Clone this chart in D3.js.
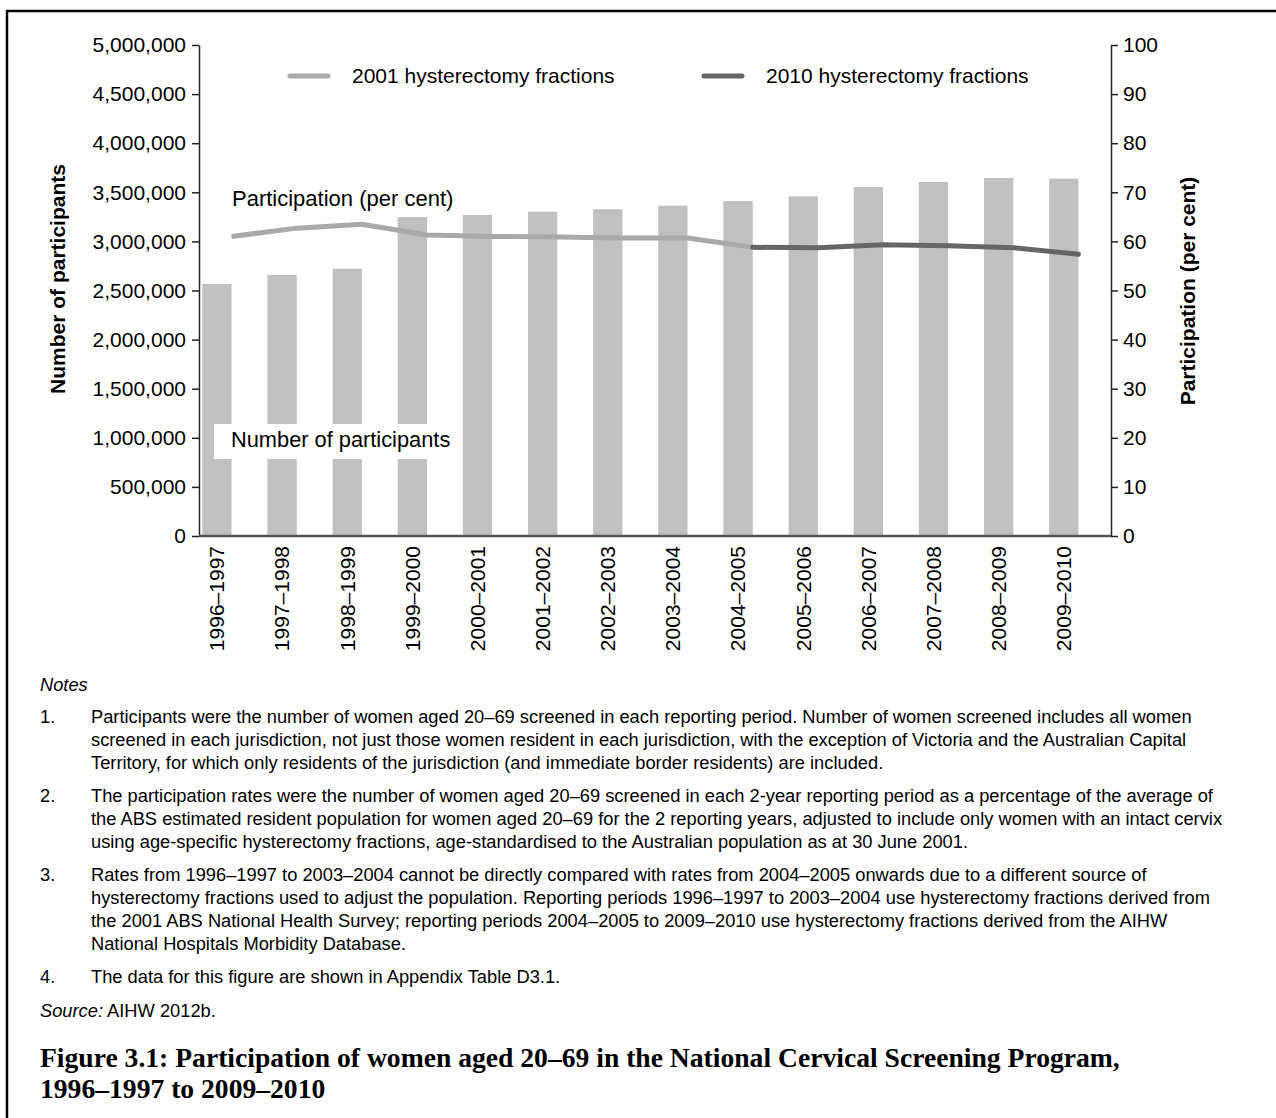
<!DOCTYPE html>
<html><head><meta charset="utf-8">
<script src="https://cdn.jsdelivr.net/npm/d3@7/dist/d3.min.js"></script>
<style>
body{margin:0;background:#fff}
svg{display:block}
text{font-family:"Liberation Sans",Arial,sans-serif;fill:#000}
text.serif{font-family:"Liberation Serif","Times New Roman",serif}
</style>
</head><body>
<svg id="c" width="1276" height="1118"></svg>
<script>
// ---- data ----
const categories = ["1996–1997","1997–1998","1998–1999","1999–2000","2000–2001","2001–2002","2002–2003","2003–2004","2004–2005","2005–2006","2006–2007","2007–2008","2008–2009","2009–2010"];
const participants = [2566000,2658000,2722000,3248000,3269000,3303000,3327000,3364000,3411000,3459000,3554000,3605000,3646000,3639000];
const periods2001 = categories.slice(0,9);
const rate2001 = [61.0,62.7,63.5,61.3,61.0,60.9,60.7,60.7,58.8];
const periods2010 = categories.slice(8);
const rate2010 = [58.8,58.7,59.3,59.1,58.7,57.4];
const leftTicks = [0,500000,1000000,1500000,2000000,2500000,3000000,3500000,4000000,4500000,5000000];
const rightTicks = [0,10,20,30,40,50,60,70,80,90,100];
const legendLabels = ["2001 hysterectomy fractions","2010 hysterectomy fractions"];
const notes = [
 ["1.",["Participants were the number of women aged 20–69 screened in each reporting period. Number of women screened includes all women",
        "screened in each jurisdiction, not just those women resident in each jurisdiction, with the exception of Victoria and the Australian Capital",
        "Territory, for which only residents of the jurisdiction (and immediate border residents) are included."]],
 ["2.",["The participation rates were the number of women aged 20–69 screened in each 2-year reporting period as a percentage of the average of",
        "the ABS estimated resident population for women aged 20–69 for the 2 reporting years, adjusted to include only women with an intact cervix",
        "using age-specific hysterectomy fractions, age-standardised to the Australian population as at 30 June 2001."]],
 ["3.",["Rates from 1996–1997 to 2003–2004 cannot be directly compared with rates from 2004–2005 onwards due to a different source of",
        "hysterectomy fractions used to adjust the population. Reporting periods 1996–1997 to 2003–2004 use hysterectomy fractions derived from",
        "the 2001 ABS National Health Survey; reporting periods 2004–2005 to 2009–2010 use hysterectomy fractions derived from the AIHW",
        "National Hospitals Morbidity Database."]],
 ["4.",["The data for this figure are shown in Appendix Table D3.1."]]
];
const titleLines = ["Figure 3.1: Participation of women aged 20–69 in the National Cervical Screening Program,","1996–1997 to 2009–2010"];

// ---- layout ----
const svg = d3.select("#c");
const L = 199, R = 1111, T = 45, B = 536;
const barColor = "#c0c0c0", light = "#a9a9a9", dark = "#666666";

// frame
svg.append("rect").attr("x",7).attr("y",11).attr("width",1300).attr("height",1200)
  .attr("fill","none").attr("stroke","#000").attr("stroke-width",2.5);

const x = d3.scaleBand().domain(categories).range([L,R]).padding(0);
const step = x.step();
const barOff = step*0.05, barW = step*0.45;
const barCenter = d => x(d) + barOff + barW/2;
const lineX = d => x(d) + step/2;
const yL = d3.scaleLinear().domain([0,5000000]).range([B,T]);
const yR = d3.scaleLinear().domain([0,100]).range([B,T]);

// bars
svg.append("g").selectAll("rect").data(categories).join("rect")
  .attr("x",d=>x(d)+barOff).attr("width",barW)
  .attr("y",(d,i)=>yL(participants[i])).attr("height",(d,i)=>B-yL(participants[i]))
  .attr("fill",barColor);

// "Number of participants" label box
const npG = svg.append("g");
npG.append("rect").attr("x",214).attr("y",424).attr("width",241).attr("height",35).attr("fill","#fff");
npG.append("text").attr("x",231).attr("y",447).attr("font-size",21.8).text("Number of participants");

// lines
const line = d3.line().x(d=>lineX(d[0])).y(d=>yR(d[1]));
svg.append("path").datum(periods2001.map((p,i)=>[p,rate2001[i]]))
  .attr("d",line).attr("fill","none").attr("stroke",light).attr("stroke-width",5).attr("stroke-linejoin","round");
svg.append("path").datum(periods2010.map((p,i)=>[p,rate2010[i]]))
  .attr("d",line).attr("fill","none").attr("stroke",dark).attr("stroke-width",5).attr("stroke-linejoin","round").attr("stroke-linecap","round");

svg.append("text").attr("x",232).attr("y",206).attr("font-size",22).text("Participation (per cent)");

// axes
const fmt = d3.format(",");
const ga = svg.append("g").attr("transform",`translate(${L},0)`)
  .call(d3.axisLeft(yL).tickValues(leftTicks).tickFormat(fmt).tickSize(7).tickSizeOuter(0).tickPadding(6));
const gb = svg.append("g").attr("transform",`translate(${R},0)`)
  .call(d3.axisRight(yR).tickValues(rightTicks).tickSize(7).tickSizeOuter(0).tickPadding(5));
[ga,gb].forEach(g=>{
  g.selectAll("text").attr("font-size",21).attr("fill","#000");
  g.selectAll("line,path").attr("stroke","#222").attr("stroke-width",1.5);
});
// x axis baseline
svg.append("line").attr("x1",L).attr("x2",R).attr("y1",B).attr("y2",B).attr("stroke","#555").attr("stroke-width",2.5);
// x labels
svg.append("g").selectAll("text").data(categories).join("text")
  .attr("transform",d=>`translate(${barCenter(d)},546) rotate(-90)`)
  .attr("text-anchor","end").attr("dy","0.35em").attr("font-size",21).text(d=>d);

// axis titles
svg.append("text").attr("transform","translate(58,279) rotate(-90)").attr("text-anchor","middle")
  .attr("dy","0.35em").attr("font-size",21).attr("font-weight","bold").text("Number of participants");
svg.append("text").attr("transform","translate(1188,291) rotate(-90)").attr("text-anchor","middle")
  .attr("dy","0.35em").attr("font-size",21).attr("font-weight","bold").text("Participation (per cent)");

// legend
const lg = svg.append("g");
[[290,light],[704,dark]].forEach((p,i)=>{
  lg.append("line").attr("x1",p[0]).attr("x2",p[0]+38).attr("y1",76).attr("y2",76)
    .attr("stroke",p[1]).attr("stroke-width",5).attr("stroke-linecap","round");
  lg.append("text").attr("x",p[0]+62).attr("y",83).attr("font-size",21).text(legendLabels[i]);
});

// notes
const nf = 18.3, lead = 23;
svg.append("text").attr("x",40).attr("y",691).attr("font-size",nf).attr("font-style","italic").text("Notes");
let yy = 723;
notes.forEach(n=>{
  svg.append("text").attr("x",40).attr("y",yy).attr("font-size",nf).text(n[0]);
  n[1].forEach((s,j)=>{
    svg.append("text").attr("x",91).attr("y",yy+j*lead).attr("font-size",nf).text(s);
  });
  yy += n[1].length*lead + 10;
});
const src = svg.append("text").attr("x",40).attr("y",1017).attr("font-size",nf);
src.append("tspan").attr("font-style","italic").text("Source:");
src.append("tspan").text(" AIHW 2012b.");
const t0 = svg.append("text").attr("class","serif").attr("x",40).attr("y",1067).attr("font-size",24).attr("font-weight","bold").text(titleLines[0]);
const fs = 24 * 1080 / t0.node().getComputedTextLength();
t0.attr("font-size",fs);
svg.append("text").attr("class","serif").attr("x",40).attr("y",1098).attr("font-size",fs).attr("font-weight","bold").text(titleLines[1]);
</script>
</body></html>
